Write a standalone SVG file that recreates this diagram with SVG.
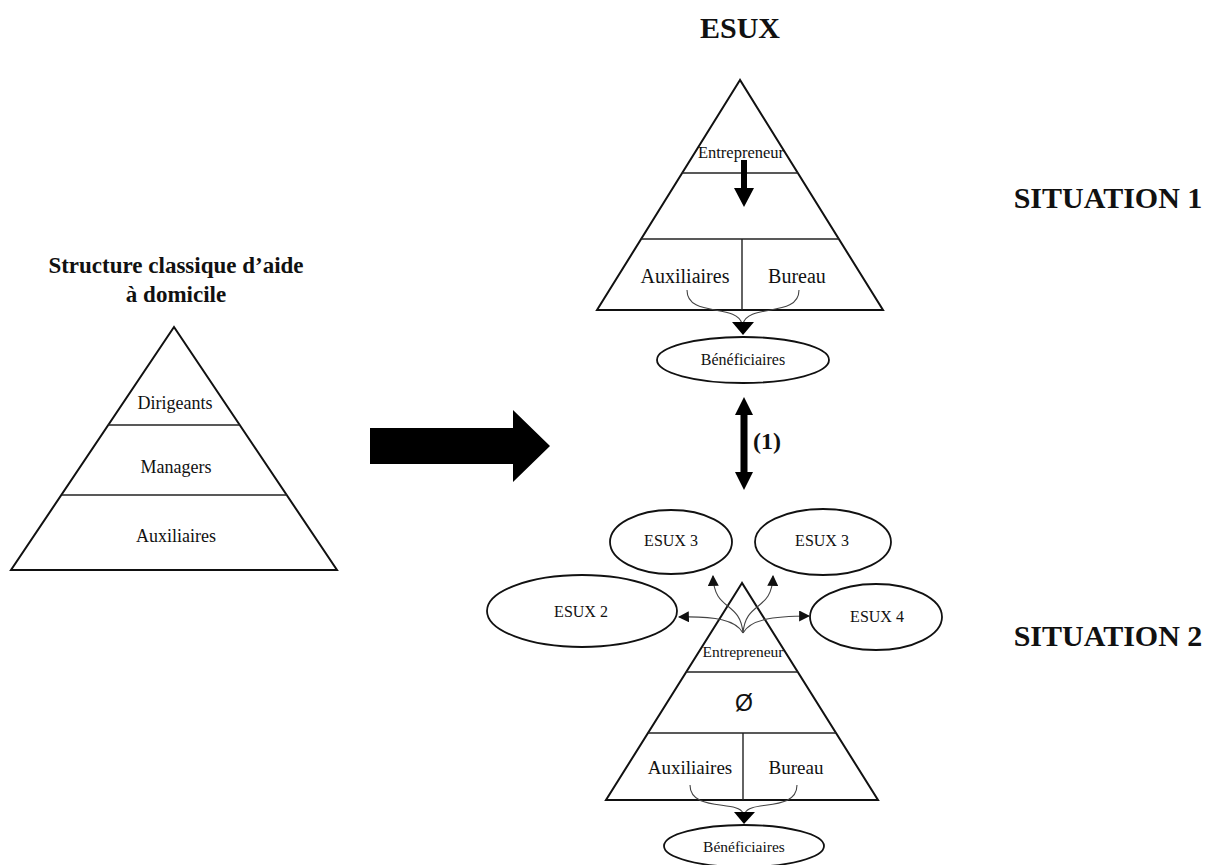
<svg xmlns="http://www.w3.org/2000/svg" width="1216" height="865" viewBox="0 0 1216 865">
<defs>
<style>
.t{font-family:"Liberation Serif","Times New Roman",serif;fill:#111;text-anchor:middle}
.b{font-weight:bold}
.pyr{fill:none;stroke:#111;stroke-width:2;stroke-linejoin:miter}
.ln{stroke:#222;stroke-width:1.4;fill:none}
.ell{fill:#fff;stroke:#111;stroke-width:1.8}
.cv{fill:none;stroke:#444;stroke-width:1.1}
</style>
<marker id="ah" viewBox="0 0 10 10" refX="9" refY="5" markerWidth="11" markerHeight="11" markerUnits="userSpaceOnUse" orient="auto">
<path d="M0,0 L10,5 L0,10 z" fill="#111"/>
</marker>
</defs>
<rect width="1216" height="865" fill="#fff"/>

<g id="title-esux"><text class="t b" x="740" y="38" font-size="30">ESUX</text></g>
<g id="situation1"><text class="t b" x="1108" y="208" font-size="30">SITUATION 1</text></g>
<g id="situation2"><text class="t b" x="1108" y="646" font-size="30">SITUATION 2</text></g>

<g id="classic">
<text class="t b" x="176" y="273" font-size="23">Structure classique d’aide</text>
<text class="t b" x="176" y="302" font-size="23">à domicile</text>
<polygon class="pyr" points="174,327 11,570 337,570"/>
<line class="ln" x1="108" y1="425" x2="240" y2="425"/>
<line class="ln" x1="62" y1="495" x2="287" y2="495" stroke="#666"/>
<text class="t" x="175" y="409" font-size="18">Dirigeants</text>
<text class="t" x="176" y="473" font-size="18">Managers</text>
<text class="t" x="176" y="542" font-size="18">Auxiliaires</text>
</g>

<g id="big-arrow">
<polygon points="370,428 513,428 513,410 550,446 513,482 513,464 370,464" fill="#000"/>
</g>

<g id="esux-s1">
<polygon class="pyr" points="740,80 597,310 883,310"/>
<line class="ln" x1="682" y1="173" x2="798" y2="173"/>
<line class="ln" x1="641" y1="239" x2="839" y2="239"/>
<line class="ln" x1="742" y1="239" x2="742" y2="310" stroke="#555"/>
<text class="t" x="741" y="158" font-size="16.5">Entrepreneur</text>
<polygon points="741,160 747,160 747,188 754,188 744,207 734,188 741,188" fill="#000"/>
<text class="t" x="685" y="283" font-size="20">Auxiliaires</text>
<text class="t" x="797" y="283" font-size="20">Bureau</text>
</g>

<g id="benef1">
<ellipse class="ell" cx="743" cy="360" rx="86" ry="23"/>
<text class="t" x="743" y="365" font-size="16">Bénéficiaires</text>
</g>

<g id="esux-s2">
<polygon class="pyr" points="742,583 606,800 878,800"/>
<line class="ln" x1="686" y1="672" x2="798" y2="672"/>
<line class="ln" x1="648" y1="733" x2="836" y2="733"/>
<line class="ln" x1="743" y1="733" x2="743" y2="800" stroke="#555"/>
<text class="t" x="743" y="657" font-size="15.5">Entrepreneur</text>
<text x="744" y="711" font-size="23" font-family="Liberation Sans, Arial, sans-serif" text-anchor="middle" fill="#111">Ø</text>
<text class="t" x="690" y="774" font-size="19">Auxiliaires</text>
<text class="t" x="796" y="774" font-size="19">Bureau</text>
</g>

<g id="benef2">
<ellipse class="ell" cx="744" cy="846" rx="80" ry="21"/>
<text class="t" x="744" y="852" font-size="15.5">Bénéficiaires</text>
</g>

<g id="esux3a"><ellipse class="ell" cx="671" cy="542" rx="61" ry="32"/><text class="t" x="671" y="546" font-size="16">ESUX 3</text></g>
<g id="esux3b"><ellipse class="ell" cx="823" cy="542" rx="68" ry="33"/><text class="t" x="822" y="546" font-size="16">ESUX 3</text></g>
<g id="esux2"><ellipse class="ell" cx="582" cy="611" rx="95" ry="36"/><text class="t" x="581" y="617" font-size="16">ESUX 2</text></g>
<g id="esux4"><ellipse class="ell" cx="876" cy="617" rx="66" ry="33"/><text class="t" x="877" y="622" font-size="16">ESUX 4</text></g>

<g id="connectors">
<path class="cv" d="M687,290 C687,318 737,303 742,324"/>
<path class="cv" d="M799,290 C799,318 748,303 743,324"/>
<polygon points="732,322 754,322 743,335" fill="#000"/>
<polygon points="744,397 753,415 747.5,415 747.5,472 753,472 744,490 735,472 740.5,472 740.5,415 735,415" fill="#000"/>
<text class="t b" x="767" y="449" font-size="24">(1)</text>
<path class="cv" d="M690,785 C690,812 738,800 743,813"/>
<path class="cv" d="M797,785 C797,812 750,800 745,813"/>
<polygon points="734,812 755,812 744,824" fill="#000"/>
<path class="cv" d="M743,633 C736,620 715,616 679,617" marker-end="url(#ah)"/>
<path class="cv" d="M743,633 C750,620 771,616 809,616" marker-end="url(#ah)"/>
<path class="cv" d="M743,633 C740,600 714,612 713,576" marker-end="url(#ah)"/>
<path class="cv" d="M743,633 C746,600 772,612 773,576" marker-end="url(#ah)"/>
</g>
</svg>
